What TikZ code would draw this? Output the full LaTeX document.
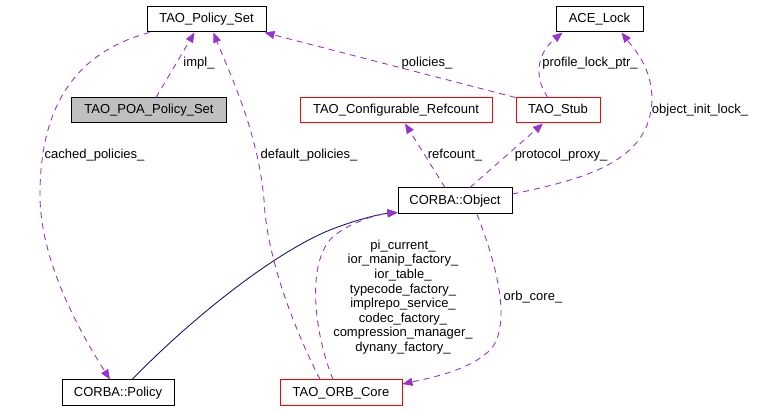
\documentclass[tikz,border=0pt]{standalone}
\usepackage{fontspec}
\setmainfont{Liberation Sans}
\usetikzlibrary{arrows.meta}
\definecolor{usecol}{HTML}{9A32CD}
\definecolor{inhcol}{HTML}{191970}
\definecolor{boxred}{HTML}{FF0000}
\definecolor{boxgray}{HTML}{BFBFBF}
\tikzset{
  cls/.style={draw=black, line width=1pt, inner sep=0pt, minimum height=25pt, font=\fontsize{13}{14.6}\selectfont},
  redcls/.style={cls, draw=boxred},
  graycls/.style={cls, fill=boxgray},
  uses/.style={draw=usecol, line width=0.9pt, dash pattern=on 6pt off 5pt, -{Triangle[length=10pt,width=8pt,fill=usecol]}},
  inherits/.style={draw=inhcol, line width=0.9pt, -{Triangle[length=10pt,width=8pt,fill=inhcol]}},
  lbl/.style={inner sep=0pt, font=\fontsize{13}{14.6}\selectfont, align=center},
}
\begin{document}
\begin{tikzpicture}[x=1pt, y=-1pt]
\useasboundingbox (0,0) rectangle (763,411);
% nodes
\node[cls, minimum width=119pt] (ps) at (206.5,19.5) {TAO\_Policy\_Set};
\node[graycls, minimum width=155pt] (poa) at (149,110.5) {TAO\_POA\_Policy\_Set};
\node[cls, minimum width=87pt] (ace) at (599.5,19.5) {ACE\_Lock};
\node[redcls, minimum width=192pt] (ref) at (396,110.5) {TAO\_Configurable\_Refcount};
\node[redcls, minimum width=84pt] (stub) at (558,110.5) {TAO\_Stub};
\node[cls, minimum width=114pt, minimum height=26pt] (obj) at (455,201) {CORBA::Object};
\node[cls, minimum width=112pt, minimum height=26pt] (pol) at (118,393) {CORBA::Policy};
\node[redcls, minimum width=122pt, minimum height=26pt] (orb) at (341,393) {TAO\_ORB\_Core};
% edges
\draw[uses] ([xshift=85pt]poa.north west) -- ([xshift=48pt]ps.south west);
\draw[uses] ([xshift=3pt]ps.south west) .. controls (65,55) and (40,120) .. (40,195)
   .. controls (40,265) and (85,340) .. ([xshift=-8pt]pol.north);
\draw[uses] ([xshift=-21pt]orb.north) .. controls (295,330) and (267,260) .. (264,200)
   .. controls (258,130) and (228,70) .. ([xshift=7pt]ps.south);
\draw[uses] (stub.north west) -- ([xshift=-2pt]ps.south east);
\draw[uses] ([xshift=-10pt]stub.north) .. controls (535,80) and (535,55) .. ([xshift=7pt]ace.south west);
\draw[uses] ([yshift=7pt]obj.east) .. controls (590,178) and (650,160) .. (652,100)
   .. controls (652,68) and (635,50) .. ([xshift=22pt]ace.south);
\draw[uses] ([xshift=-10pt]obj.north) -- ([xshift=9pt]ref.south);
\draw[uses] ([xshift=15pt]obj.north) -- ([xshift=-15pt]stub.south);
\draw[inherits] ([xshift=14pt]pol.north) .. controls (200,310) and (280,250) .. (330,230)
   .. controls (355,220) and (380,214) .. ([yshift=2pt]obj.south west);
\draw[uses] ([xshift=-8pt]orb.north) .. controls (313,330) and (306,258) .. (335,235)
   .. controls (355,220) and (380,214) .. ([yshift=2pt]obj.south west);
\draw[uses] ([xshift=22pt]obj.south) .. controls (495,260) and (512,320) .. (492,348)
   .. controls (472,370) and (430,378) .. ([yshift=9pt]orb.east);
% labels
\node[lbl] (limpl) at (199,63) {impl\_};
\node[lbl] (lcached) at (94.5,155) {cached\_policies\_};
\node[lbl] (ldefault) at (309,155) {default\_policies\_};
\node[lbl] (lpolicies) at (427,63) {policies\_};
\node[lbl] (lprofile) at (590,63) {profile\_lock\_ptr\_};
\node[lbl] (linit) at (700,110) {object\_init\_lock\_};
\node[lbl] (lref) at (455,155) {refcount\_};
\node[lbl] (lproxy) at (561,155) {protocol\_proxy\_};
\node[lbl] (lorb) at (533,297) {orb\_core\_};
\node[lbl] (lmulti) at (403,297) {pi\_current\_\\ior\_manip\_factory\_\\ior\_table\_\\typecode\_factory\_\\implrepo\_service\_\\codec\_factory\_\\compression\_manager\_\\dynany\_factory\_};
\end{tikzpicture}
\end{document}
